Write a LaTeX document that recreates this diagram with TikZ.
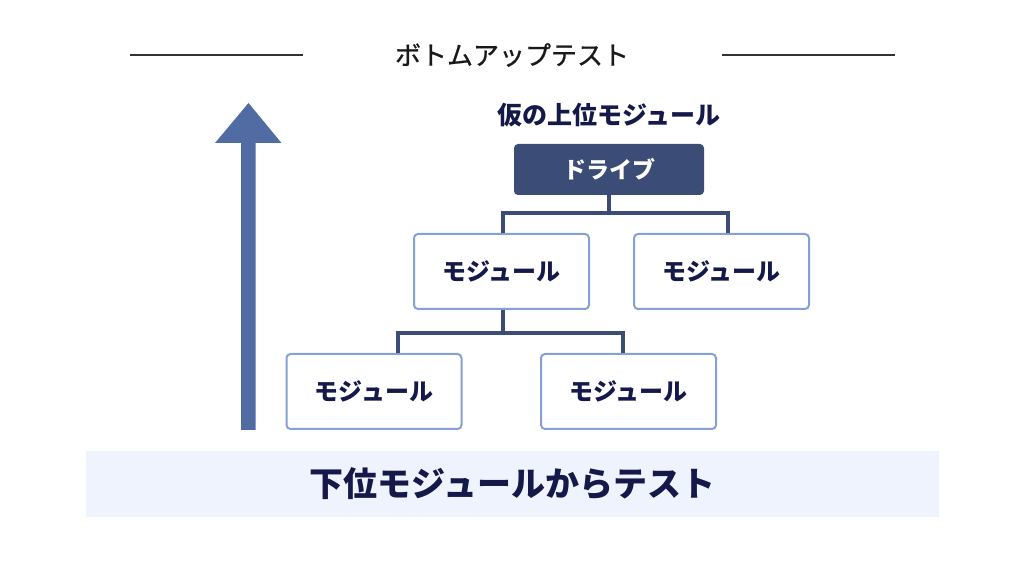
\documentclass[tikz,border=0pt]{standalone}
\usepackage{fontspec}
\setmainfont{Noto Sans CJK JP}
\newfontface\titlefont[FakeBold=0.8]{Noto Sans CJK JP}
\usepackage{tikz}
\usetikzlibrary{positioning, arrows.meta}

\definecolor{navy}{HTML}{3B4D77}
\definecolor{inktext}{HTML}{14194A}
\definecolor{frameblue}{HTML}{86A0D4}
\definecolor{arrowblue}{HTML}{506CA3}
\definecolor{bandfill}{HTML}{EFF3FD}

\tikzset{
    modbox/.style={draw=frameblue, line width=1pt, rounded corners=2pt, fill=white,
        minimum width=87.5pt, minimum height=37.5pt, text=inktext,
        font=\fontsize{12}{14}\selectfont\bfseries},
    drivebox/.style={fill=navy, rounded corners=2pt, minimum width=95pt,
        minimum height=25.5pt, text=white, font=\fontsize{11.5}{14}\selectfont\bfseries},
    link/.style={draw=navy, line width=2pt}
}

\begin{document}
\begin{tikzpicture}[x=0.5pt, y=-0.5pt]
    \useasboundingbox (0,0) rectangle (1024,561);

    % title with rules
    \node[text=black!90, font=\fontsize{13}{15}\selectfont\titlefont] (title) at (512,55) {ボトムアップテスト};
    \coordinate (rl1) at (130,55); \coordinate (rl2) at (303,55);
    \coordinate (rr1) at (722,55); \coordinate (rr2) at (895,55);
    \draw[black!80, line width=0.6pt] (rl1) -- (rl2);
    \draw[black!80, line width=0.6pt] (rr1) -- (rr2);

    % tree
    \node[text=inktext, font=\fontsize{12.5}{15}\selectfont\bfseries] (upper) at (609,115) {仮の上位モジュール};
    \node[drivebox] (drive) at (609,169.5) {ドライブ};
    \node[modbox] (modA) at (501.5,271.5) {モジュール};
    \node[modbox] (modB) at (721.5,271.5) {モジュール};
    \node[modbox] (modC) at (374,391.5) {モジュール};
    \node[modbox] (modD) at (628.5,391.5) {モジュール};

    \draw[link] (drive.south) -- ++(0,18) -| ([xshift=0.75pt]modA.north);
    \draw[link] (drive.south) -- ++(0,18) -| ([xshift=3pt]modB.north);
    \draw[link] ([xshift=0.75pt]modA.south) -- ++(0,23) -| ([xshift=12pt]modC.north);
    \draw[link] ([xshift=0.75pt]modA.south) -- ++(0,23) -| ([xshift=-2.75pt]modD.north);

    % big arrow
    \coordinate (arrowfoot) at (248.5,430);
    \coordinate (arrowtip) at (248.5,103);
    \fill[arrowblue] (arrowfoot) ++(-7.5,0) -- ++(0,-287) -- ++(-26,0) -- (arrowtip)
        -- ++(33,40) -- ++(-26,0) -- ++(0,287) -- cycle;

    % bottom band
    \node[fill=bandfill, minimum width=426.5pt, minimum height=33pt, text=inktext,
        font=\fontsize{17}{20}\selectfont\bfseries] (band) at (512.5,484) {下位モジュールからテスト};
\end{tikzpicture}
\end{document}
